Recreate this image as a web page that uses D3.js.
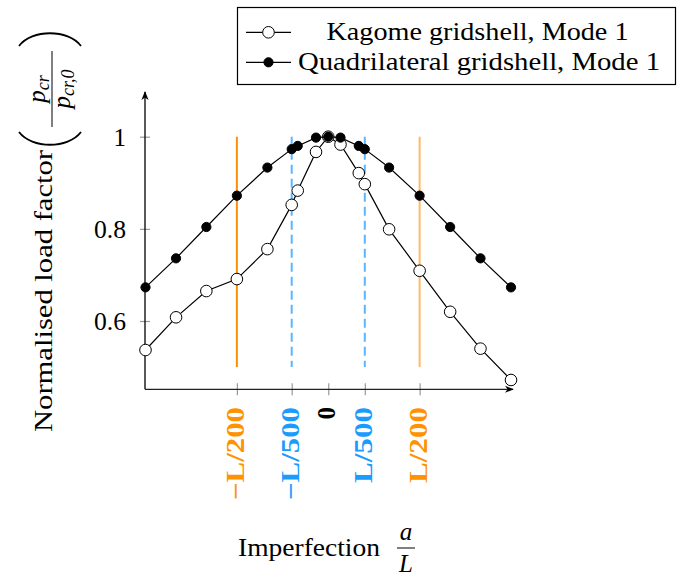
<!DOCTYPE html>
<html><head><meta charset="utf-8">
<script src="https://cdn.jsdelivr.net/npm/d3@7"></script>
<style>body{margin:0;background:#fff} svg text{font-family:"Liberation Serif","Times New Roman",Times,serif;}</style>
</head><body>
<svg id="c" width="686" height="577"></svg>
<script>
// ---- data ----
const imperfection = [-0.01,-0.00833,-0.00667,-0.005,-0.00333,-0.002,-0.00167,-0.00067,0,0.00067,0.00167,0.002,0.00333,0.005,0.00667,0.00833,0.01];
const kagome = [0.537,0.608,0.665,0.691,0.756,0.852,0.883,0.967,1.0,0.983,0.921,0.897,0.799,0.709,0.620,0.540,0.472];
const quadrilateral = [0.673,0.736,0.804,0.872,0.933,0.973,0.980,0.998,1.0,0.998,0.980,0.973,0.933,0.872,0.804,0.736,0.673];
const seriesNames = ["Kagome gridshell, Mode 1","Quadrilateral gridshell, Mode 1"];
const xTickVals = [-0.005,-0.002,0,0.002,0.005];
const xTickLabels = ["\u2212L/200","\u2212L/500","0","L/500","L/200"];
const yTickVals = [0.6,0.8,1.0];
const yTickLabels = ["0.6","0.8","1"];
const refLines = [-0.005,-0.002,0.002,0.005];

// ---- styles ----
const tickColors = ["#ff9200","#1a9cff","#000","#1a9cff","#ff9200"];
const refStyles = [
  {c:"#ff8f00", dash:null},
  {c:"#5cb6ff", dash:"9,5"},
  {c:"#5cb6ff", dash:"9,5"},
  {c:"#ffb866", dash:null}
];

const svg = d3.select("#c");
const x = d3.scaleLinear().domain([-0.01,0.01]).range([145.5,511]);
const y = d3.scaleLinear().domain([0.6,1.0]).range([321,136.7]);
const x0 = 145, yBase = 389.3;

function fit(sel, w){ sel.attr("textLength", w).attr("lengthAdjust","spacingAndGlyphs"); return sel; }

// reference vertical lines
svg.append("g").selectAll("line").data(refLines).join("line")
  .attr("x1", d=>x(d)).attr("x2", d=>x(d))
  .attr("y1", y(1.0)).attr("y2", y(0.5))
  .attr("stroke", (d,i)=>refStyles[i].c)
  .attr("stroke-width", 2)
  .attr("stroke-dasharray", (d,i)=>refStyles[i].dash);

// axes
const yAxis = d3.axisLeft(y).tickValues(yTickVals).tickFormat((d,i)=>yTickLabels[i]).tickSize(5).tickPadding(14);
const gy = svg.append("g").attr("transform",`translate(${x0},0)`).call(yAxis);
gy.attr("font-family",null);
gy.select(".domain").remove();
gy.selectAll(".tick line").attr("x1",-5).attr("x2",5).attr("stroke","#999").attr("stroke-width",1.2);
gy.selectAll(".tick text").attr("font-size",25).attr("fill","#000").attr("dy","0.35em");
gy.selectAll(".tick text").each(function(d,i){ if(yTickLabels[i].length>1) fit(d3.select(this),32); });

const xAxis = d3.axisBottom(x).tickValues(xTickVals).tickFormat("").tickSize(6);
const gx = svg.append("g").attr("transform",`translate(0,${yBase})`).call(xAxis);
gx.select(".domain").remove();
gx.selectAll(".tick line").attr("y1",-6).attr("y2",6).attr("stroke","#999").attr("stroke-width",1.2);

// x tick labels rotated
const xl = svg.append("g").selectAll("text").data(xTickVals).join("text")
  .attr("transform", d=>`translate(${x(d)+7},407) rotate(-90)`)
  .attr("text-anchor","end")
  .attr("font-weight","bold").attr("font-size",25)
  .attr("fill",(d,i)=>tickColors[i])
  .text((d,i)=>xTickLabels[i]);
xl.each(function(d,i){ if(xTickLabels[i].length>1){ const w = xTickLabels[i].startsWith("\u2212")?93:76; fit(d3.select(this), w);} });

// axis lines with arrows
const defs = svg.append("defs");
defs.append("marker").attr("id","arr").attr("viewBox","0 0 10 10").attr("refX",9).attr("refY",5)
  .attr("markerWidth",9).attr("markerHeight",9).attr("markerUnits","userSpaceOnUse").attr("orient","auto")
  .append("path").attr("d","M0,1 L10,5 L0,9 L3,5 Z").attr("fill","#000");
svg.append("line").attr("x1",x0).attr("y1",yBase).attr("x2",x0).attr("y2",92)
  .attr("stroke","#000").attr("stroke-width",1.3).attr("marker-end","url(#arr)");
svg.append("line").attr("x1",x0).attr("y1",yBase).attr("x2",513).attr("y2",yBase)
  .attr("stroke","#222").attr("stroke-width",1.3).attr("marker-end","url(#arr)");

// series
const line = d3.line().x((d,i)=>x(imperfection[i])).y(d=>y(d));
function drawSeries(vals, filled){
  const g = svg.append("g");
  g.append("path").datum(vals).attr("d",line).attr("fill","none").attr("stroke","#000").attr("stroke-width",1.2);
  g.selectAll("circle").data(vals).join("circle")
    .attr("cx",(d,i)=>x(imperfection[i])).attr("cy",d=>y(d))
    .attr("r", filled?4.6:5.8)
    .attr("fill", filled?"#000":"#fff").attr("stroke","#000").attr("stroke-width",1);
}
drawSeries(kagome,false);
drawSeries(quadrilateral,true);

// legend
const lg = svg.append("g");
lg.append("rect").attr("x",237.5).attr("y",7.5).attr("width",438).attr("height",77)
  .attr("fill","#fff").attr("stroke","#000").attr("stroke-width",1.2);
const legRows = [{ly:32.3, ty:39.5, tx:326.5, tw:302, filled:false},{ly:62.3, ty:69.5, tx:298, tw:362, filled:true}];
legRows.forEach((r,i)=>{
  lg.append("line").attr("x1",246).attr("x2",291).attr("y1",r.ly).attr("y2",r.ly).attr("stroke","#000").attr("stroke-width",1.2);
  lg.append("circle").attr("cx",268.5).attr("cy",r.ly).attr("r",r.filled?4.6:5.8)
    .attr("fill",r.filled?"#000":"#fff").attr("stroke","#000").attr("stroke-width",1);
  fit(lg.append("text").attr("x",r.tx).attr("y",r.ty).attr("font-size",25).text(seriesNames[i]), r.tw);
});

// y axis label
const yl = svg.append("g").attr("transform","translate(52,432) rotate(-90)");
fit(yl.append("text").attr("x",0).attr("y",0).attr("font-size",25).text("Normalised load factor"), 282);
// parentheses (local coords: +x = up on screen, +y = right on screen)
yl.append("path").attr("d","M 300,-33 C 283,-20 283,16 300,29").attr("fill","none").attr("stroke","#000").attr("stroke-width",1.8);
yl.append("path").attr("d","M 386,-33 C 403,-20 403,16 386,29").attr("fill","none").attr("stroke","#000").attr("stroke-width",1.8);
yl.append("line").attr("x1",305).attr("x2",381).attr("y1",0).attr("y2",0).attr("stroke","#000").attr("stroke-width",1);
const num = yl.append("text").attr("x",343).attr("y",-7).attr("text-anchor","middle").attr("font-size",25);
num.append("tspan").attr("font-style","italic").text("p");
num.append("tspan").attr("font-style","italic").attr("font-size",18).attr("dy",4).text("cr");
const den = yl.append("text").attr("x",343).attr("y",18).attr("text-anchor","middle").attr("font-size",25);
den.append("tspan").attr("font-style","italic").text("p");
den.append("tspan").attr("font-style","italic").attr("font-size",18).attr("dy",4).text("cr,0");

// x axis label
fit(svg.append("text").attr("x",238).attr("y",556).attr("font-size",25).text("Imperfection"), 142);
svg.append("text").attr("x",406).attr("y",540).attr("text-anchor","middle").attr("font-style","italic").attr("font-size",25).text("a");
svg.append("line").attr("x1",397).attr("x2",415).attr("y1",548).attr("y2",548).attr("stroke","#000").attr("stroke-width",1);
svg.append("text").attr("x",406).attr("y",572).attr("text-anchor","middle").attr("font-style","italic").attr("font-size",25).text("L");
</script>
</body></html>
